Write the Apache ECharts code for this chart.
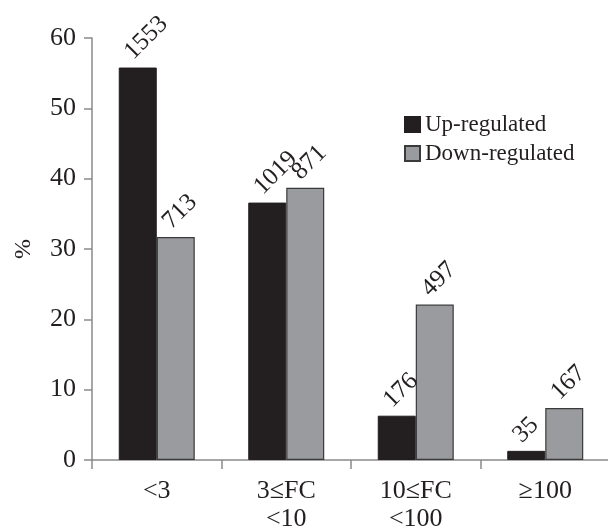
<!DOCTYPE html>
<html><head><meta charset="utf-8">
<script src="https://cdn.jsdelivr.net/npm/echarts@6/dist/echarts.min.js"></script>
<style>html,body{margin:0;padding:0;background:#fff}#c{width:608px;height:530px}</style>
</head><body><div id="c"></div>
<script>
var categories = ['<3', '3≤FC\n<10', '10≤FC\n<100', '≥100'];
var upValues = [55.8, 36.6, 6.3, 1.3];
var downValues = [31.7, 38.7, 22.1, 7.4];
var upCounts = [1553, 1019, 176, 35];
var downCounts = [713, 871, 497, 167];
var yTicks = {min: 0, max: 60, interval: 10};

var serif = '"Liberation Serif", "DejaVu Serif", serif';
function lbl(counts) {
  return {
    show: true, position: ['26%', -12], rotate: 45, align: 'left', verticalAlign: 'middle',
    fontFamily: serif, fontSize: 25, color: '#231f20',
    formatter: function (p) { return counts[p.dataIndex]; }
  };
}
var chart = echarts.init(document.getElementById('c'));
chart.setOption({
  animation: false,
  grid: {left: 92, right: -2, top: 38, bottom: 70, containLabel: false, outerBoundsMode: 'none'},
  legend: {
    orient: 'vertical', left: 399, top: 108, itemGap: 6, itemWidth: 15, itemHeight: 15,
    textStyle: {fontFamily: serif, fontSize: 23, color: '#231f20'},
    data: [{name: 'Up-regulated', icon: 'rect'}, {name: 'Down-regulated', icon: 'rect'}]
  },
  xAxis: {
    type: 'category', data: categories,
    axisLine: {lineStyle: {color: '#8a8a8a', width: 1.5}},
    axisTick: {show: true, length: 9, lineStyle: {color: '#8a8a8a', width: 1.5}},
    axisLabel: {fontFamily: serif, fontSize: 26, color: '#231f20', margin: 17, lineHeight: 28}
  },
  yAxis: {
    type: 'value', min: yTicks.min, max: yTicks.max, interval: yTicks.interval,
    name: '%', nameLocation: 'middle', nameRotate: 90, nameGap: 56,
    nameTextStyle: {fontFamily: serif, fontSize: 24, color: '#231f20'},
    axisLine: {show: true, lineStyle: {color: '#8a8a8a', width: 1.5}},
    axisTick: {show: true, length: 8, lineStyle: {color: '#8a8a8a', width: 1.5}},
    splitLine: {show: false},
    axisLabel: {fontFamily: serif, fontSize: 26, color: '#231f20', margin: 16}
  },
  series: [
    {name: 'Up-regulated', type: 'bar', data: upValues, barWidth: 38, barGap: '0%',
     itemStyle: {color: '#231f20', borderColor: '#231f20', borderWidth: 1}, label: lbl(upCounts)},
    {name: 'Down-regulated', type: 'bar', data: downValues, barWidth: 38, barGap: '0%',
     itemStyle: {color: '#9a9b9e', borderColor: '#3a3a3a', borderWidth: 1.2}, label: lbl(downCounts)}
  ]
});
</script></body></html>
